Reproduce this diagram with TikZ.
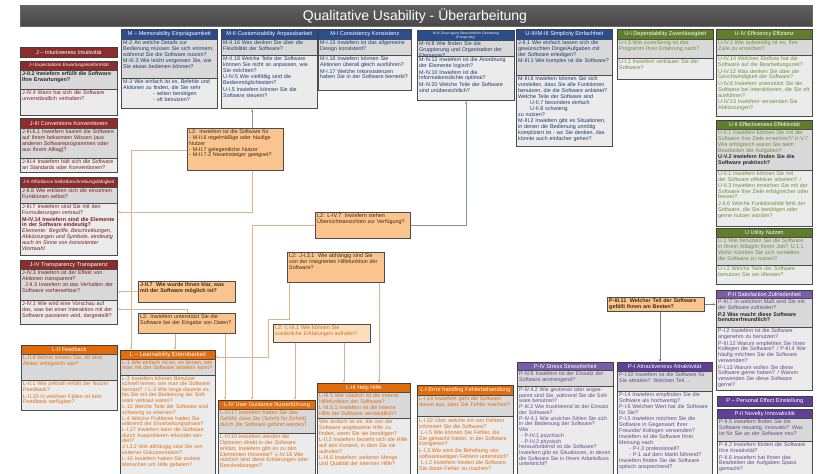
\documentclass[tikz,border=0pt]{standalone}
\usepackage{fontspec}
\setmainfont{Liberation Sans}
\usetikzlibrary{shadows,arrows.meta,calc}
\definecolor{jred}{HTML}{8E2B2B}
\definecolor{jtxtc}{HTML}{7A2020}
\definecolor{mblue}{HTML}{2A4D8E}
\definecolor{mtxtc}{HTML}{1F3A70}
\definecolor{ugreen}{HTML}{5E7E2B}
\definecolor{utxtc}{HTML}{6F8F35}
\definecolor{lorange}{HTML}{E36C0A}
\definecolor{ltxtc}{HTML}{E46C0A}
\definecolor{ppurp}{HTML}{7A5CA8}
\definecolor{ppurpd}{HTML}{5F3F97}
\definecolor{ptxtc}{HTML}{5F4A8B}
\definecolor{boxA}{HTML}{D9D9D9}
\definecolor{boxB}{HTML}{EBEBEB}
\definecolor{obfill}{HTML}{FAC48E}
\definecolor{oblight}{HTML}{FCDDBC}
\definecolor{obtxtc}{HTML}{3F2A12}
\definecolor{oblighttxt}{HTML}{C07830}
\definecolor{tanc}{HTML}{D9B48E}
\definecolor{bluec}{HTML}{8292AC}
\definecolor{grayc}{HTML}{7F7F7F}
\newcommand\qfont{\fontsize{5.4}{5.8}\selectfont\hyphenpenalty=10000\exhyphenpenalty=10000\relax}
\newcommand\hfont{\fontsize{5.6}{6.2}\selectfont}
\newcommand\hsfont{\fontsize{4.6}{5.2}\selectfont}
\tikzset{
  hdr/.style={draw=black!75, line width=0.6pt, inner sep=0pt, text=white, font=\hfont, align=center,
    drop shadow={shadow xshift=1pt, shadow yshift=-1pt, opacity=0.45}},
  qbox/.style={draw=black!70, line width=0.7pt, inner sep=0pt,
    drop shadow={shadow xshift=1.1pt, shadow yshift=-1.1pt, opacity=0.5}},
  qtext/.style={inner xsep=2pt, inner ysep=1.5pt, anchor=north west, align=left, font=\qfont},
  jtx/.style={text=jtxtc}, mtx/.style={text=mtxtc}, utx/.style={text=utxtc},
  ltx/.style={text=ltxtc}, ptx/.style={text=ptxtc}, otx/.style={text=obtxtc},
  conn/.style={line width=0.8pt, draw=tanc, -{Latex[length=2.6pt,width=2.4pt]}},
  connb/.style={conn, draw=bluec},
  conng/.style={conn, draw=grayc},
}
% header: [opt]{name}{x1}{y1}{x2}{y2}{fill}{text}
\newcommand\hd[8][]{%
  \pgfmathsetlengthmacro\hdw{#5-#3}%
  \pgfmathsetlengthmacro\hdh{#6-#4}%
  \node[hdr, fill=#7, minimum width=\hdw, minimum height=\hdh, anchor=north west, #1] (#2) at (#3,#4) {#8};}
% question box: [textstyle]{name}{x1}{y1}{x2}{y2}{fill}{text}
\newcommand\qb[8][]{%
  \pgfmathsetlengthmacro\qbw{#5-#3}%
  \pgfmathsetlengthmacro\qbh{#6-#4}%
  \pgfmathsetlengthmacro\qbt{#5-#3-4.5}%
  \node[qbox, fill=#7, minimum width=\qbw, minimum height=\qbh, anchor=north west] (#2) at (#3,#4) {};
  \node[qtext, text width=\qbt, #1] (#2t) at (#3,#4) {#8};}
\begin{document}
\begin{tikzpicture}[x=1pt,y=-1pt]
\useasboundingbox (0,0) rectangle (817,474);
\fill[white] (0,0) rectangle (817,474);
% title
\node[draw=black!60, line width=0.5pt, top color=black!62, bottom color=black!72, minimum width=792pt, minimum height=21pt, anchor=north west, inner sep=0pt] (bar) at (20,5) {};
\node[text=white, font=\fontsize{14}{16}\selectfont, inner sep=0pt] (title) at (415,16) {Qualitative Usability - Überarbeitung};

% ---------------- J column
\hd{jh}{20}{47}{117}{57}{jred}{J – Intuitiveness Intuitivität}
\hd[font=\hsfont]{jIh}{20}{61}{117}{70}{jred}{J-I Expectations Erwartungskonformität}
\qb[jtx]{jI1}{20}{70}{117}{89}{boxA}{\textbf{\color{black!85}J-II.2 Inwiefern erfüllt die Software Ihre Erwartungen?}}
\qb[jtx]{jI2}{20}{89}{117}{115}{boxB}{J-IV.4 Wann hat sich die Software unverständlich verhalten?}
\hd{jIIIh}{20}{118}{117}{128}{jred}{J-III Conventions Konventionen}
\qb[jtx]{jIII1}{20}{128}{117}{158}{boxA}{J-III.6.1 Inwiefern basiert die Software auf Ihrem bekannten Wissen (aus anderen Softwareprogrammen oder aus Ihrem Alltag)?}
\qb[jtx]{jIII2}{20}{158}{117}{172}{boxB}{J-III.4 Inwiefern hält sich die Software an Standards oder Konventionen?}
\hd[font=\hsfont]{jIIh}{20}{177}{117}{187}{jred}{J-II Affordance Selbstbeschreibungsfähigkeit}
\qb[jtx]{jII1}{20}{187}{117}{203}{boxA}{J-II.8 Wie erklären sich die einzelnen Funktionen selbst?}
\qb[jtx]{jII2}{20}{203}{117}{255}{boxB}{J-III.7 Inwiefern sind Sie mit den Formulierungen vertraut?\\[0.8pt]\textbf{M-IV.14 Inwiefern sind die Elemente in der Software eindeutig?} \textit{Elemente: Begriffe, Beschreibungen, Abkürzungen und Symbole, eindeutig auch im Sinne von konsistenter Wortwahl}}
\hd{jIVh}{20}{260}{117}{269}{jred}{J-IV Transparency Transparenz}
\qb[jtx]{jIV1}{20}{269}{117}{300}{boxA}{J-IV.3 Inwiefern ist der Effekt von Aktionen transparent?\\\hspace*{3pt}J-II.3 Inwiefern ist das Verhalten der Software vorhersehbar?}
\qb[jtx]{jIV2}{20}{300}{117}{324}{boxB}{J-IV.1 Wie wird eine Vorschau auf das, was bei einer Interaktion mit der Software passieren wird, dargestellt?}

% ---------------- M / U top row
\hd{mh}{121}{29}{217}{39}{mblue}{M – Memorability Einprägsamkeit}
\qb[mtx]{m1}{121}{39}{217}{78}{boxA}{M-2 An welche Details zur Bedienung müssen Sie sich erinnern, während Sie die Software nutzen?\\[0.8pt]M-III.3 Wie leicht vergessen Sie, wie Sie etwas bedienen können?}
\qb[mtx]{m2}{121}{78}{217}{108}{boxB}{M-3 Wie einfach ist es, Befehle und Aktionen zu finden, die Sie sehr\\\hspace*{30pt}- selten benötigen\\\hspace*{30pt}- oft benutzen?}
\hd{mIIh}{221}{29}{317}{39}{mblue}{M-II Customizability Anpassbarkeit}
\qb[mtx]{mII1}{221}{39}{317}{55}{boxA}{M-II.16 Was denken Sie über die Flexibilität der Software?}
\qb[mtx]{mII2}{221}{55}{317}{108}{boxB}{M-II.18 Welche Teile der Software können Sie nicht so anpassen, wie Sie möchten?\\[0.8pt]U-IV.5 Wie vielfältig sind die Bedienmöglichkeiten?\\[0.8pt]U-I.5 Inwiefern können Sie die Software steuern?}
\hd{mIh}{318}{29}{411}{39}{mblue}{M-I Consistency Konsistenz}
\qb[mtx]{mI1}{318}{39}{411}{55}{boxA}{M-I.15 Inwiefern ist das allgemeine Design konsistent?}
\qb[mtx]{mI2}{318}{55}{411}{90}{boxB}{M-I.16 Inwiefern können Sie Aktionen überall gleich ausführen?\\[0.8pt]M-I.17 Welche Inkonsistenzen haben Sie in der Software bemerkt?}
\hd[font=\fontsize{3.4}{3.9}\selectfont]{mIVh}{417}{30}{514}{40}{mblue}{M-IV Clear layout Übersichtliche Gestaltung\\(Perspicuity)}
\qb[mtx]{mIV1}{417}{40}{514}{56}{boxA}{M-IV.8 Wie finden Sie die Gruppierung und Organisation der Elemente?}
\qb[mtx]{mIV2}{417}{56}{514}{100}{boxB}{M-IV.12 Inwiefern ist die Anordnung der Elemente logisch?\\[0.8pt]M-IV.10 Inwiefern ist die Informationsdichte optimal?\\[0.8pt]M-IV.20 Welche Teile der Software sind unübersichtlich?}
\hd{uIIIh}{516}{29}{612}{39}{mblue}{U-III/M-III Simplicity Einfachheit}
\qb[mtx]{uIII1}{516}{39}{612}{75}{boxA}{J-II.1 Wie einfach lassen sich die gewünschten Dinge/Aufgaben mit der Software erledigen?\\[0.8pt]M-III.1 Wie komplex ist die Software?}
\qb[mtx]{uIII2}{516}{75}{612}{146}{boxB}{M-III.6 Inwiefern können Sie sich vorstellen, dass Sie alle Funktionen benutzen, die die Software anbietet?\\[0.8pt]Welche Teile der Software sind\\\hspace*{12pt}U-II.7 besonders einfach\\\hspace*{12pt}U-II.8 schwierig\\zu nutzen?\\[0.8pt]M-III.2 Inwiefern gibt es Situationen, in denen die Bedienung unnötig kompliziert ist - wo Sie denken, das könnte auch einfacher gehen?}
\hd{uIh}{617}{29}{713}{39}{ugreen}{U-I Dependability Zuverlässigkeit}
\qb[utx]{uI1}{617}{39}{713}{58}{boxA}{U-I.3 Wie zuverlässig ist das Programm Ihrer Erfahrung nach?}
\qb[utx]{uI2}{617}{58}{713}{79}{boxB}{U-I.1 Inwiefern vertrauen Sie der Software?}
\hd{uIVh}{716}{29}{812}{39}{ugreen}{U-IV Efficiency Effizienz}
\qb[utx]{uIV1}{716}{39}{812}{55}{boxA}{U-IV.1 Wie aufwendig ist es, Ihre Ziele zu erreichen?}
\qb[utx]{uIV2}{716}{55}{812}{116}{boxB}{U-IV.14 Welchen Einfluss hat die Software auf die Bearbeitungszeit?\\[0.8pt]U-IV.12 Was denken Sie über die Geschwindigkeit der Software?\\[0.8pt]U-IV.6 Inwiefern unterstützt Sie die Software bei Interaktionen, die Sie oft ausführen?\\[0.8pt]U-IV.13 Inwiefern verwenden Sie Abkürzungen?}
\hd{uIIh}{716}{120}{812}{129}{ugreen}{U-II Effectiveness Effektivität}
\qb[utx]{uII1}{716}{129}{812}{170}{boxA}{U-II.1 Inwiefern können Sie mit der Software Ihre Ziele erreichen?/ U-V.7 Wie erfolgreich waren Sie beim Bearbeiten der Aufgaben?\\[0.8pt]\textbf{\color{black!85}U-V.2 Inwiefern finden Sie die Software praktisch?}}
\qb[utx]{uII2}{716}{170}{812}{226}{boxB}{U-II.1 Inwiefern können Sie mit der Software effektiver arbeiten? / U-II.3 Inwiefern erreichen Sie mit der Software Ihre Ziele erfolgreicher oder besser?\\[0.8pt]J-II.6 Welche Funktionalität fehlt der Software, die Sie benötigen oder gerne nutzen würden?}
\hd{uh}{716}{228}{812}{237}{ugreen}{U Utility Nutzen}
\qb[utx]{u1}{716}{237}{812}{265}{boxA}{U.1 Wie benutzen Sie die Software in Ihrem Alltag/in Ihrem Job? U.1.1 Wofür könnten Sie sich vorstellen, die Software zu nutzen?}
\qb[utx]{u2}{716}{265}{812}{284}{boxB}{U-I.2 Welche Teile der Software benutzen Sie am öftesten?}

% ---------------- P group
\hd{pSh}{716}{290}{812}{298}{ppurp}{P-II Satisfaction Zufriedenheit}
\qb[ptx]{pS1}{716}{298}{812}{327}{boxA}{P-III.7 In welchem Maß sind Sie mit der Software zufrieden?\\[0.8pt]\textbf{\color{black!85}P.2 Was macht diese Software benutzerfreundlich?}}
\qb[ptx]{pS2}{716}{327}{812}{390}{boxB}{P-I.2 Inwiefern ist die Software angenehm zu benutzen?\\[0.8pt]P-III.12 Warum empfehlen Sie Ihren Kollegen die Software? / P-III.4 Wie häufig möchten Sie die Software verwenden?\\[0.8pt]P-I.13 Warum wollen Sie diese Software gerne haben? / Warum verwenden Sie diese Software gerne?}
\hd{ph}{717}{396}{812}{406}{ppurpd}{P – Personal Effect Einstellung}
\hd{pNh}{717}{409}{812}{418}{ppurpd}{P-II Novelty Innovativität}
\qb[ptx]{pN1}{717}{418}{812}{441}{boxA}{P-II.5 Inwiefern finden Sie die Software neuartig, innovativ? Was ist für Sie an der Software neu?}
\qb[ptx]{pN2}{717}{441}{812}{482}{boxB}{P-II.2 Inwiefern fördert die Software Ihre Kreativität?\\[0.8pt]P-II.6 Inwiefern hat Ihnen das Bearbeiten der Aufgaben Spass gemacht?}
\hd{pIh}{617}{362}{712}{371}{ppurpd}{P-I Attractiveness Attraktivität}
\qb[ptx]{pI1}{617}{371}{712}{391}{boxA}{P-I.10 Inwiefern ist die Software für Sie attraktiv? Welchen Teil ...}
\qb[ptx]{pI2}{617}{391}{712}{482}{boxB}{P-I.4 Inwiefern empfinden Sie die Software als hochwertig?\\[0.5pt]P-I.6 Welchen Wert hat die Software für Sie?\\[0.5pt]P-I.5 Inwiefern möchten Sie die Software in Gegenwart Ihrer Freunde/ Kollegen verwenden?\\[0.5pt]Inwiefern ist die Software Ihrer Meinung nach\\\hspace*{10pt}- P-I.3 professionell?\\\hspace*{10pt}- P-1 auf dem Markt führend?\\[0.5pt]Inwiefern finden Sie die Software optisch ansprechend?}
\hd{pIVh}{517}{362}{613}{370}{ppurp}{P-IV Stress Stressfreiheit}
\qb[ptx]{pIV1}{517}{370}{613}{386}{boxA}{P-IV.6 Inwiefern ist der Einsatz der Software anstrengend?}
\qb[ptx,font=\fontsize{5.3}{5.6}\selectfont]{pIV2}{517}{386}{613}{482}{boxB}{P-IV.4.2 Wie gestresst oder angespannt sind Sie, während Sie die Software benutzen?\\[0.4pt]P-III.2 Wie frustrierend ist der Einsatz der Software?\\[0.4pt]P-IV.4.1 Wie unsicher fühlen Sie sich in der Bedienung der Software?\\[0.4pt]Wie\\\hspace*{2pt}- P-IV.1 psychisch\\\hspace*{2pt}- P-IV.2 physisch\\herausfordernd ist die Software?\\[0.4pt]Inwiefern gibt es Situationen, in denen die Software Sie in Ihrem Arbeitsfluss unterbricht?}

% ---------------- L group
\hd{lIIh}{21}{345}{117}{354}{lorange}{L-II Feedback}
\qb[ltx]{lII1}{21}{354}{117}{380}{boxA}{L-II.4 Woher wissen Sie, ob eine Aktion erfolgreich war?}
\qb[ltx]{lII2}{21}{380}{117}{410}{boxB}{L-II.1 Wie zeitnah erhält der Nutzer Feedback?\\[0.8pt]L-II.10 In welchen Fällen ist kein Feedback verfügbar?}
\hd[font=\fontsize{6}{6.6}\selectfont]{lh}{120}{350}{215}{359}{lorange}{L – Learnability Erlernbarkeit}
\qb[ltx,inner ysep=1pt]{l1}{120}{359}{215}{375}{boxA}{L-1 Wie einfach ist es, es lernen, wie man mit der Software arbeiten kann?}
\qb[ltx,font=\fontsize{5.3}{5.6}\selectfont,inner ysep=1pt]{l2}{120}{375}{215}{482}{boxB}{L-3 Inwiefern können Benutzer schnell lernen, wie man die Software benutzt? / L-3 Wie lange dauerte es, bis Sie mit der Bedienung der Software vertraut waren?\\[0.4pt]L-12 Welche Teile der Software sind schwierig zu erlernen?\\[0.4pt]L-4 Welche Probleme hatten Sie während der Einarbeitungsphase?\\[0.4pt]L-I.17 Inwiefern kann die Software durch Ausprobieren erkundet werden?\\[0.4pt]J-I.3.2 Wie abhängig sind Sie von externer Dokumentation?\\[0.4pt]L-10 Inwiefern haben Sie andere Menschen um Hilfe gebeten?}
\hd{lIVh}{218}{400}{315}{409}{lorange}{L-IV User Guidance Nutzerführung}
\qb[ltx]{lIV1}{218}{409}{315}{433}{boxA}{L-IV.17 Inwiefern hatten Sie das Gefühl, dass Sie (Schritt für Schritt) durch die Software geführt werden?}
\qb[ltx]{lIV2}{218}{433}{315}{482}{boxB}{L-IV.10 Inwiefern werden die Optionen direkt in der Software erklärt, Inwiefern gibt es zu den Elementen Hinweise? L-IV.16 Wie nützlich sind diese Erklärungen oder Beschreibungen?}
\hd{lIIIh}{317}{383}{410}{392}{lorange}{L-III Help Hilfe}
\qb[ltx]{lIII1}{317}{392}{410}{418}{boxA}{L-III.5 Wie nützlich ist die interne Hilfefunktion der Software?\\[0.5pt]L-III.5.1 Inwiefern ist die interne Hilfe der Software verständlich?}
\qb[ltx]{lIII2}{317}{418}{410}{482}{boxB}{Wie einfach ist es, die von der Software angebotene Hilfe zu finden, wenn Sie sie benötigen?\\[0.5pt]L-II.2 Inwiefern bezieht sich die Hilfe auf den Kontext, in dem Sie sie aufrufen?\\[0.5pt]L-III.6 Inwiefern variieren Menge und Qualität der internen Hilfe?}
\hd{lIh}{417}{385}{513}{395}{lorange}{L-I Error handling Fehlerbehandlung}
\qb[ltx]{lI1}{417}{395}{513}{416}{boxA}{L-I.14 Inwiefern geht die Software davon aus, dass Sie Fehler machen?}
\qb[ltx]{lI2}{417}{416}{513}{482}{boxB}{L-I.22 Über welche Art von Fehlern informiert Sie die Software?\\[0.5pt]\hspace*{2pt}L-I.5 Wie können Sie Fehler, die Sie gemacht haben, in der Software korrigieren?\\[0.5pt]L-I.3 Wie wird die Behebung von softwareseitigen Fehlern unterstützt?\\[0.5pt]\hspace*{2pt}L-I.2 Inwiefern hindert die Software Sie daran Fehler zu machen?}

% ---------------- orange L2 boxes
\qb[otx]{ob1}{187}{128}{283}{170}{obfill}{L2: Inwiefern ist die Software für\\- M-II.6 regelmäßige oder häufige Nutzer\\- M-II.7 gelegentliche Nutzer\\- M-II.7.2 Neueinsteiger geeignet?}
\qb[otx]{ob2}{315}{212}{410}{238}{obfill}{L2: L-IV.7 \ Inwiefern stehen Übersichtsansichten zur Verfügung?}
\qb[otx]{ob3}{287}{252}{384}{282}{obfill}{L2: J-I.3.1 \ Wie abhängig sind Sie von der integrierten Hilfefunktion der Software?}
\qb[otx]{ob4}{138}{281}{235}{302}{obfill}{\textbf{J-II.7 \ Wie wurde Ihnen klar, was mit der Software möglich ist?}}
\qb[otx]{ob5}{138}{313}{235}{333}{obfill}{L2: Inwiefern unterstützt Sie die Software bei der Eingabe von Daten?}
\qb[text=oblighttxt]{ob6}{273}{324}{370}{342}{oblight}{L2: L-III.1 Wie können Sie zusätzliche Erklärungen aufrufen?}
\qb[otx]{ob7}{607}{297}{704}{311}{obfill}{\textbf{P-III.11 \ Welcher Teil der Software gefällt Ihnen am Besten?}}

% ---------------- connectors
\coordinate (xa) at (252,212);
\draw[connb] (ob1.north -| xa) -- (mII2.south -| xa);
\draw[conn] (ob1.south -| xa) |- (jII2.east |- xa);
\coordinate (xb) at (131,150);
\draw[conn] (ob1.west |- xb) -| (lh.north -| xb);
\draw[conn] (ob4.west) -- (jIV1.east |- ob4.west);
\coordinate (xc) at (187,309);
\draw[conn] (ob5.north -| xc) |- (jIV2.east |- xc);
\coordinate (xd) at (175,0);
\draw[conn] (ob5.south -| xd) -- (lh.north -| xd);
\coordinate (xe) at (225,0);
\draw[conn] (ob5.south -| xe) -- (lIVh.north -| xe);
\coordinate (xf) at (252,0);
\draw[conn] (ob2.west) -| (lIVh.north -| xf);
\coordinate (xg) at (466,0);
\draw[connb] (ob2.east) -| (mIV2.south -| xg);
\coordinate (xh) at (289,319);
\coordinate (xi) at (268,357);
\draw[conn] (ob3.south -| xh) -- (xh) -| (xi) -- (lh.east |- xi);
\coordinate (xj) at (379,0);
\draw[conn] (ob3.south -| xj) -- (lIIIh.north -| xj);
\coordinate (xk) at (295,0);
\coordinate (xl) at (344,0);
\draw[conn] (ob6.south -| xk) -- (lIVh.north -| xk);
\draw[conn] (ob6.south -| xl) -- (lIIIh.north -| xl);
\draw[conng] (ob7.east) -- (pS1.west |- ob7.east);
\coordinate (xm) at (660,0);
\draw[conng] (ob7.south -| xm) -- (pIh.north -| xm);
\end{tikzpicture}
\end{document}
